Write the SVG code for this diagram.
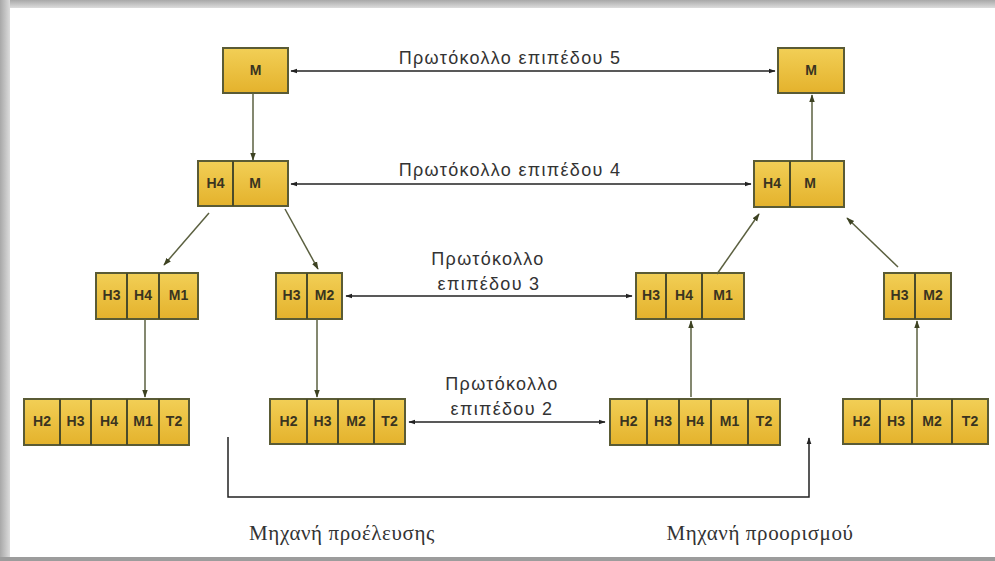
<svg xmlns="http://www.w3.org/2000/svg" width="995" height="561" viewBox="0 0 995 561">
<defs>
<linearGradient id="gold" x1="0" y1="0" x2="0" y2="1">
<stop offset="0" stop-color="#f2cf56"/>
<stop offset="1" stop-color="#e4b22c"/>
</linearGradient>
<linearGradient id="topbar" x1="0" y1="0" x2="0" y2="1">
<stop offset="0" stop-color="#a8a8a8"/>
<stop offset="1" stop-color="#dcdcdc"/>
</linearGradient>
<linearGradient id="leftbar" x1="0" y1="0" x2="1" y2="0">
<stop offset="0" stop-color="#a8a8a8"/>
<stop offset="1" stop-color="#dcdcdc"/>
</linearGradient>
<marker id="ah" viewBox="0 0 10 10" refX="9" refY="5" markerWidth="7" markerHeight="7" orient="auto-start-reverse" markerUnits="userSpaceOnUse">
<path d="M0,1.5 L10,5 L0,8.5 z" fill="#222"/>
</marker>
<marker id="ahg" viewBox="0 0 10 10" refX="9" refY="5" markerWidth="8" markerHeight="8" orient="auto" markerUnits="userSpaceOnUse">
<path d="M0,1.5 L10,5 L0,8.5 z" fill="#3d4222"/>
</marker>
</defs>
<style>
.box rect{fill:url(#gold);stroke:#5a5b35;stroke-width:2}
.box line{stroke:#4a4b2a;stroke-width:2}
.box text{font-family:"Liberation Sans",Arial,sans-serif;font-size:14px;font-weight:bold;fill:#3a3420;text-anchor:middle}
.proto{stroke:#222;stroke-width:1.5;fill:none}
.feed{stroke:#5b6040;stroke-width:1.5;fill:none}
.lbl{font-family:"Liberation Sans",Arial,sans-serif;font-size:18px;fill:#333;text-anchor:middle;letter-spacing:1.3px}
.mach{font-family:"Liberation Serif","Times New Roman",serif;font-size:21px;fill:#333;text-anchor:middle;letter-spacing:0.6px}
</style>
<rect x="0" y="0" width="995" height="561" fill="#ffffff"/>
<rect x="0" y="0" width="995" height="8" fill="url(#topbar)"/>
<rect x="0" y="0" width="10" height="561" fill="url(#leftbar)"/>
<rect x="0" y="557" width="995" height="4" fill="#9c9c9c"/>

<g id="n-src-l5" class="box">
<rect x="223" y="48" width="65" height="45"/>
<text x="255.5" y="75">M</text>
</g>
<g id="n-dst-l5" class="box">
<rect x="778" y="48" width="66" height="45"/>
<text x="811" y="75">M</text>
</g>
<g id="n-src-l4" class="box">
<rect x="198" y="161" width="90" height="45"/>
<line x1="233" y1="161" x2="233" y2="206"/>
<text x="215.5" y="188">H4</text>
<text x="255" y="188">M</text>
</g>
<g id="n-dst-l4" class="box">
<rect x="754" y="161" width="90" height="46"/>
<line x1="790" y1="161" x2="790" y2="207"/>
<text x="772" y="188">H4</text>
<text x="810" y="188">M</text>
</g>
<g id="n-src-l3a" class="box">
<rect x="96" y="273" width="102" height="46"/>
<line x1="127" y1="273" x2="127" y2="319"/>
<line x1="159" y1="273" x2="159" y2="319"/>
<text x="111.5" y="300">H3</text>
<text x="143" y="300">H4</text>
<text x="178.5" y="300">M1</text>
</g>
<g id="n-src-l3b" class="box">
<rect x="276" y="273" width="66" height="46"/>
<line x1="307" y1="273" x2="307" y2="319"/>
<text x="291.5" y="300">H3</text>
<text x="324.5" y="300">M2</text>
</g>
<g id="n-dst-l3a" class="box">
<rect x="636" y="273" width="108" height="46"/>
<line x1="666" y1="273" x2="666" y2="319"/>
<line x1="702" y1="273" x2="702" y2="319"/>
<text x="651" y="300">H3</text>
<text x="684" y="300">H4</text>
<text x="723" y="300">M1</text>
</g>
<g id="n-dst-l3b" class="box">
<rect x="884" y="273" width="67" height="46"/>
<line x1="915" y1="273" x2="915" y2="319"/>
<text x="899.5" y="300">H3</text>
<text x="933" y="300">M2</text>
</g>
<g id="n-src-l2a" class="box">
<rect x="24" y="399" width="165" height="46"/>
<line x1="60" y1="399" x2="60" y2="445"/>
<line x1="91" y1="399" x2="91" y2="445"/>
<line x1="127" y1="399" x2="127" y2="445"/>
<line x1="159" y1="399" x2="159" y2="445"/>
<text x="42" y="426">H2</text>
<text x="75.5" y="426">H3</text>
<text x="109" y="426">H4</text>
<text x="143" y="426">M1</text>
<text x="174" y="426">T2</text>
</g>
<g id="n-src-l2b" class="box">
<rect x="270" y="399" width="135" height="45"/>
<line x1="307" y1="399" x2="307" y2="444"/>
<line x1="338" y1="399" x2="338" y2="444"/>
<line x1="374" y1="399" x2="374" y2="444"/>
<text x="288.5" y="426">H2</text>
<text x="322.5" y="426">H3</text>
<text x="356" y="426">M2</text>
<text x="389.5" y="426">T2</text>
</g>
<g id="n-dst-l2a" class="box">
<rect x="610" y="399" width="170" height="46"/>
<line x1="647" y1="399" x2="647" y2="445"/>
<line x1="679" y1="399" x2="679" y2="445"/>
<line x1="711" y1="399" x2="711" y2="445"/>
<line x1="748" y1="399" x2="748" y2="445"/>
<text x="628.5" y="426">H2</text>
<text x="663" y="426">H3</text>
<text x="695" y="426">H4</text>
<text x="729.5" y="426">M1</text>
<text x="764" y="426">T2</text>
</g>
<g id="n-dst-l2b" class="box">
<rect x="843" y="399" width="145" height="45"/>
<line x1="880" y1="399" x2="880" y2="444"/>
<line x1="912" y1="399" x2="912" y2="444"/>
<line x1="952" y1="399" x2="952" y2="444"/>
<text x="861.5" y="426">H2</text>
<text x="896" y="426">H3</text>
<text x="932" y="426">M2</text>
<text x="970" y="426">T2</text>
</g>

<g id="connectors">
<line class="proto" x1="291" y1="71" x2="775" y2="71" marker-start="url(#ah)" marker-end="url(#ah)"/>
<line class="proto" x1="291" y1="184" x2="751" y2="184" marker-start="url(#ah)" marker-end="url(#ah)"/>
<line class="proto" x1="346" y1="296" x2="632" y2="296" marker-start="url(#ah)" marker-end="url(#ah)"/>
<line class="proto" x1="409" y1="422" x2="605" y2="422" marker-start="url(#ah)" marker-end="url(#ah)"/>

<line class="feed" x1="253" y1="93" x2="253" y2="160" marker-end="url(#ahg)"/>
<line class="feed" x1="812" y1="160" x2="812" y2="95" marker-end="url(#ahg)"/>
<line class="feed" x1="209" y1="213" x2="164" y2="265" marker-end="url(#ahg)"/>
<line class="feed" x1="285" y1="209" x2="318" y2="269" marker-end="url(#ahg)"/>
<line class="feed" x1="145" y1="319" x2="145" y2="397" marker-end="url(#ahg)"/>
<line class="feed" x1="317" y1="319" x2="317" y2="397" marker-end="url(#ahg)"/>
<line class="feed" x1="717" y1="274" x2="759" y2="214" marker-end="url(#ahg)"/>
<line class="feed" x1="898" y1="267" x2="847" y2="218" marker-end="url(#ahg)"/>
<line class="feed" x1="691" y1="397" x2="691" y2="321" marker-end="url(#ahg)"/>
<line class="feed" x1="917" y1="397" x2="917" y2="321" marker-end="url(#ahg)"/>

<polyline class="proto" points="228,437 228,497 809,497 809,438" marker-end="url(#ah)"/>
</g>

<g id="labels">
<text class="lbl" x="510" y="64">Πρωτόκολλο επιπέδου 5</text>
<text class="lbl" x="510" y="176">Πρωτόκολλο επιπέδου 4</text>
<text class="lbl" x="488" y="265">Πρωτόκολλο</text>
<text class="lbl" x="489" y="290">επιπέδου 3</text>
<text class="lbl" x="502" y="390">Πρωτόκολλο</text>
<text class="lbl" x="502" y="415">επιπέδου 2</text>
<text class="mach" x="342" y="540">Μηχανή προέλευσης</text>
<text class="mach" x="760" y="540">Μηχανή προορισμού</text>
</g>
</svg>
